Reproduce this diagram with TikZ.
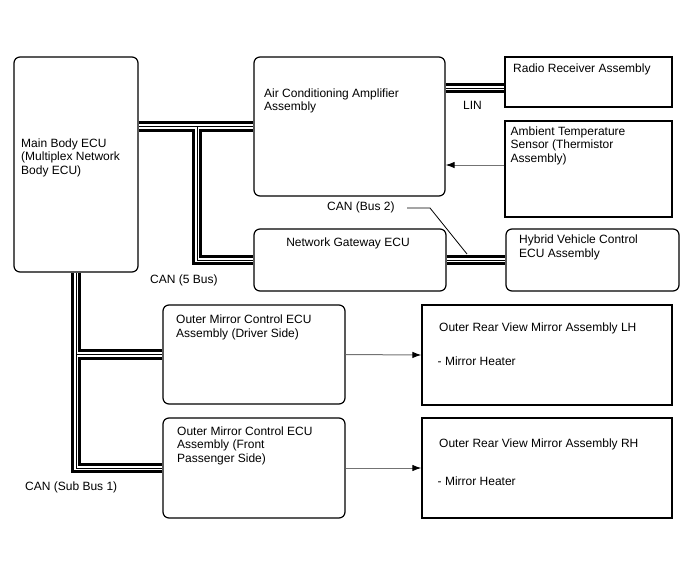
\documentclass[tikz,border=0pt]{standalone}
\usepackage{fontspec}
\setmainfont{Liberation Sans}
\usetikzlibrary{arrows.meta,backgrounds}
\newcommand\tline[1]{\begin{tabular}[t]{@{}l@{}}#1\end{tabular}}
\begin{document}
\begin{tikzpicture}[x=1pt,y=-1pt,
  font=\fontsize{12}{13.7}\selectfont,
  rbox/.style={draw, line width=1.2pt, rounded corners=6pt, inner sep=0pt},
  sbox/.style={draw, line width=1.3pt, inner sep=0pt},
  lbl/.style={anchor=base west, inner sep=0pt},
  busA/.style={line width=10.5pt, black},
  busB/.style={line width=4.5pt, white},
  busC/.style={line width=0.9pt, black},
  sig/.style={line width=1pt, black!55, -{Latex[length=9pt,width=6.5pt,color=black]}},
  lead/.style={line width=0.8pt, black}
]
\useasboundingbox (0,0) rectangle (688,560);

% boxes
\node[rbox, minimum width=124pt, minimum height=215pt] (main) at (76,164.5) {};
\node[rbox, minimum width=191pt, minimum height=139pt] (acamp) at (349.5,126.5) {};
\node[sbox, minimum width=167pt, minimum height=50pt] (radio) at (588.5,82) {};
\node[sbox, minimum width=167pt, minimum height=96pt] (amb) at (588.5,169) {};
\node[rbox, minimum width=192pt, minimum height=62pt] (gw) at (350,260) {};
\node[rbox, minimum width=173pt, minimum height=62pt] (hyb) at (592.5,260) {};
\node[rbox, minimum width=182pt, minimum height=99pt] (drv) at (254,354.5) {};
\node[rbox, minimum width=182pt, minimum height=100pt] (pas) at (254,468) {};
\node[sbox, minimum width=250pt, minimum height=100pt] (lh) at (547,355) {};
\node[sbox, minimum width=250pt, minimum height=100pt] (rh) at (547,468) {};

% box texts
\node[lbl] (tmain) at (21,147) {\tline{Main Body ECU\\(Multiplex Network\\Body ECU)}};
\node[lbl] (tacamp) at (264,97) {\tline{Air Conditioning Amplifier\\Assembly}};
\node[lbl] (tradio) at (513,72.7) {Radio Receiver Assembly};
\node[lbl] (tamb) at (510.5,135) {\tline{Ambient Temperature\\Sensor (Thermistor\\Assembly)}};
\node[anchor=base, inner sep=0pt] (tgw) at (348,246.7) {Network Gateway ECU};
\node[lbl] (thyb) at (519,243.3) {\tline{Hybrid Vehicle Control\\ECU Assembly}};
\node[lbl] (tdrv) at (176,323.3) {\tline{Outer Mirror Control ECU\\Assembly (Driver Side)}};
\node[lbl] (tpas) at (177,435) {\tline{Outer Mirror Control ECU\\Assembly (Front\\Passenger Side)}};
\node[lbl] (tlh) at (439,331.7) {Outer Rear View Mirror Assembly LH};
\node[lbl] (tlhh) at (437.5,365) {- Mirror Heater};
\node[lbl] (trh) at (439,447.7) {Outer Rear View Mirror Assembly RH};
\node[lbl] (trhh) at (437.5,485) {- Mirror Heater};

% bus labels
\node[lbl] (lin) at (463,109.3) {LIN};
\node[lbl] (can2) at (327,210.7) {CAN (Bus 2)};
\node[lbl] (can5) at (150,283.3) {CAN (5 Bus)};
\node[lbl] (cansub) at (25,490.7) {CAN (Sub Bus 1)};

% bus lines
\coordinate (j1) at (197,126.5);
\begin{scope}[on background layer]
\foreach \s in {busA,busB,busC}{
  \draw[\s] (acamp.west -| main.east) -- (acamp.west);
  \draw[\s] (j1) |- (gw.west);
  \draw[\s] (gw.east) -- (hyb.west);
  \draw[\s] ([yshift=-6pt]radio.west -| acamp.east) -- ([yshift=-6pt]radio.west);
  \draw[\s] (main.south) -- (main.south |- pas.west) -- (pas.west);
  \draw[\s] (main.south |- drv.west) -- (drv.west);
}
\end{scope}

% signal arrows
\draw[sig] ([yshift=4pt]amb.west) -- ([yshift=4pt]amb.west -| acamp.east);
\draw[sig] (drv.east) -- (lh.west);
\draw[sig] (pas.east) -- (rh.west);

% leader for CAN (Bus 2)
\coordinate (l1) at (407,208);
\coordinate (l2) at (430,208);
\coordinate (l3) at (467,254);
\draw[lead] (l1) -- (l2) -- (l3);
\end{tikzpicture}
\end{document}
